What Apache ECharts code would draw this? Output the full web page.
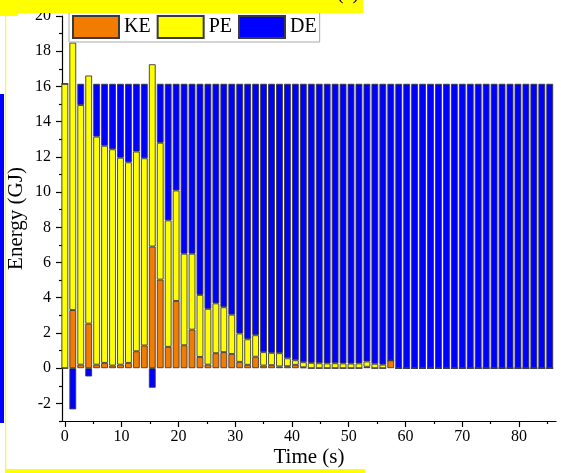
<!DOCTYPE html>
<html>
<head>
<meta charset="utf-8">
<script src="https://cdn.jsdelivr.net/npm/echarts@6/dist/echarts.min.js"></script>
<style>
html,body{margin:0;padding:0;background:#fff;}
#c{width:561px;height:473px;}
</style>
</head>
<body>
<div id="c"></div>
<script>
// time of each bar (s)
const times = [0,1.4,2.8,4.2,5.6,7,8.4,9.8,11.2,12.6,14,15.4,16.8,18.2,19.6,21,22.4,23.8,25.2,26.6,28,29.4,30.8,32.2,33.6,35,36.4,37.8,39.2,40.6,42,43.4,44.8,46.2,47.6,49,50.4,51.8,53.2,54.6,56,57.4,58.8,60.2,61.6,63,64.4,65.8,67.2,68.6,70,71.4,72.8,74.2,75.6,77,78.4,79.8,81.2,82.6,84,85.4];
// kinetic energy (GJ)
const KE = [0,3.3,0.2,2.53,0.2,0.3,0.15,0.2,0.3,0.96,1.29,6.91,5.03,1.21,3.82,1.3,2.19,0.64,0.2,0.85,0.91,0.81,0.36,0.19,0.65,0.15,0.17,0.1,0.11,0.19,0.05,0,0,0,0,0,0,0,0.08,0,0,0.44,0,0,0,0,0,0,0,0,0,0,0,0,0,0,0,0,0,0,0,0];
// potential energy (GJ)
const PE = [16.15,15.19,14.74,14.09,12.95,12.33,12.28,11.75,11.39,11.34,10.63,10.35,7.77,7.18,6.27,5.2,4.31,3.52,3.17,2.83,2.55,2.23,1.61,1.45,1.22,0.76,0.7,0.75,0.45,0.26,0.29,0.3,0.28,0.27,0.28,0.27,0.26,0.27,0.3,0.25,0.2,0,0,0,0,0,0,0,0,0,0,0,0,0,0,0,0,0,0,0,0,0];
// dissipated energy (GJ)
const DE = [0,-2.34,1.21,-0.47,3.0,3.52,3.72,4.2,4.46,3.85,4.23,-1.11,3.35,7.76,6.06,9.65,9.65,11.99,12.78,12.47,12.69,13.11,14.18,14.51,14.28,15.24,15.28,15.3,15.59,15.7,15.81,15.85,15.87,15.88,15.87,15.88,15.89,15.88,15.77,15.9,15.95,15.71,16.15,16.15,16.15,16.15,16.15,16.15,16.15,16.15,16.15,16.15,16.15,16.15,16.15,16.15,16.15,16.15,16.15,16.15,16.15,16.15];
const xMajor = [0,10,20,30,40,50,60,70,80];
const xMinor = [5,15,25,35,45,55,65,75,85];
const yMajor = [-2,0,2,4,6,8,10,12,14,16,18,20];
const yMinor = [-3,-1,1,3,5,7,9,11,13,15,17,19];
const seriesNames = ['KE','PE','DE'];
const seriesColors = ['#F27C00','#FFFF00','#0000FF'];
const seriesData = [KE, PE, DE];

const FONT = 'Liberation Serif';
const chart = echarts.init(document.getElementById('c'), null, {renderer:'canvas'});

const axisLineStyle = {color:'#000', width:1.2};
const option = {
  animation:false,
  backgroundColor:'#fff',
  textStyle:{fontFamily:FONT, color:'#000'},
  grid:{left:62, right:5, top:16, bottom:52, containLabel:false, outerBoundsMode:'none'},
  legend:{
    left:69, top:12, orient:'horizontal',
    data:seriesNames,
    itemWidth:46, itemHeight:22, itemGap:6,
    padding:[3,3,3,3],
    backgroundColor:'#fff', borderColor:'#aaa', borderWidth:1,
    textStyle:{fontFamily:FONT, fontSize:20, color:'#000'},
    icon:'rect'
  },
  xAxis:[{
    type:'value', min:-0.5, max:86.5,
    axisLine:{show:true, lineStyle:axisLineStyle, onZero:false},
    axisTick:{show:true, customValues:xMajor, length:6, lineStyle:{color:'#000', width:1.2}},
    axisLabel:{customValues:xMajor, fontFamily:FONT, fontSize:16, color:'#000', margin:8},
    splitLine:{show:false},
    name:'Time (s)', nameLocation:'middle', nameGap:26, nameMoveOverlap:false,
    nameTextStyle:{fontFamily:FONT, fontSize:21, color:'#000'}
  },{
    type:'value', min:-0.5, max:86.5, position:'bottom',
    axisLine:{show:false, onZero:false},
    axisTick:{show:true, customValues:xMinor, length:3, lineStyle:{color:'#000', width:1.2}},
    axisLabel:{show:false, customValues:xMinor},
    splitLine:{show:false}
  }],
  yAxis:[{
    type:'value', min:-3, max:20,
    axisLine:{show:true, lineStyle:axisLineStyle, onZero:false},
    axisTick:{show:true, customValues:yMajor, length:6, lineStyle:{color:'#000', width:1.2}},
    axisLabel:{customValues:yMajor, fontFamily:FONT, fontSize:16, color:'#000', margin:11},
    splitLine:{show:false},
    name:'Energy (GJ)', nameLocation:'middle', nameGap:35, nameMoveOverlap:false,
    nameTextStyle:{fontFamily:FONT, fontSize:21, color:'#000'}
  },{
    type:'value', min:-3, max:20, position:'left',
    axisLine:{show:false, onZero:false},
    axisTick:{show:true, customValues:yMinor, length:3, lineStyle:{color:'#000', width:1.2}},
    axisLabel:{show:false, customValues:yMinor},
    splitLine:{show:false}
  }],
  series: seriesNames.map((n,k)=>({
    name:n, type:'bar', stack:'total', stackStrategy:'samesign',
    xAxisIndex:0, yAxisIndex:0,
    barWidth:6.8,
    dimensions:['energy','time'],
    encode:{x:'time', y:'energy'},
    itemStyle:{color:seriesColors[k], borderColor:'#3a3a3a', borderWidth:0.9},
    data: times.map((t,i)=>[seriesData[k][i], t])
  })),
  graphic:[
    {type:'rect', shape:{x:0,y:0,width:363,height:13}, style:{fill:'#FFFF00'}, silent:true, z:100},
    {type:'rect', shape:{x:0,y:0,width:18,height:16}, style:{fill:'#FFFF00'}, silent:true, z:100},
    {type:'text', x:337, y:4, style:{text:'(c)', fontFamily:FONT, fontSize:20, fill:'#000', verticalAlign:'bottom', align:'left'}, silent:true, z:101},
    {type:'rect', shape:{x:0,y:94,width:4,height:329}, style:{fill:'#0000FF'}, silent:true, z:100},
    {type:'rect', shape:{x:5,y:13,width:1.2,height:460}, style:{fill:'#FFFF00'}, silent:true, z:100},
    {type:'rect', shape:{x:5,y:469,width:360,height:4}, style:{fill:'#FFFF00'}, silent:true, z:100}
  ]
};
chart.setOption(option);
</script>
</body>
</html>
